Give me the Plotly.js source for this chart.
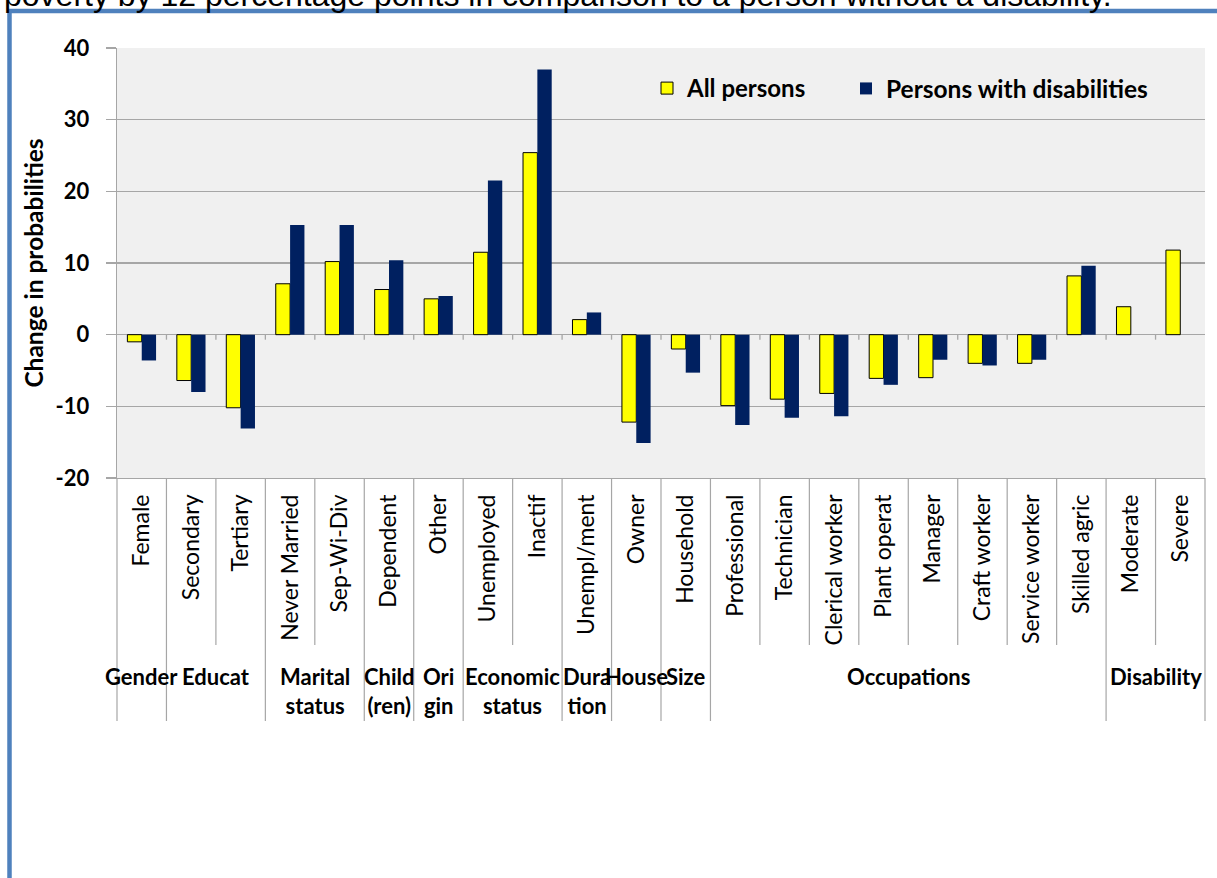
<!DOCTYPE html>
<html>
<head>
<meta charset="utf-8">
<script src="https://cdn.plot.ly/plotly-3.0.1.min.js"></script>
<style>
  html, body { margin: 0; padding: 0; background: #ffffff; }
  #chart { width: 1217px; height: 878px; }
</style>
</head>
<body>
<div id="chart"></div>
<script>
// ---- data ----
var categories = ["Female", "Secondary", "Tertiary", "Never Married", "Sep-Wi-Div", "Dependent",
  "Other", "Unemployed", "Inactif", "Unempl/ment", "Owner", "Household", "Professional",
  "Technician", "Clerical worker", "Plant operat", "Manager", "Craft worker", "Service worker",
  "Skilled agric", "Moderate", "Severe"];
var allPersons = [-1.0, -6.4, -10.2, 7.1, 10.2, 6.3, 5.0, 11.5, 25.4, 2.1, -12.2, -2.0, -9.9,
  -9.0, -8.2, -6.1, -6.0, -4.0, -4.0, 8.2, 3.9, 11.8];
var personsWithDisabilities = [-3.6, -8.0, -13.1, 15.3, 15.3, 10.4, 5.4, 21.5, 37.0, 3.1, -15.1,
  -5.3, -12.6, -11.6, -11.4, -7.0, -3.5, -4.3, -3.5, 9.6, null, null];
var groupLabels = ["Gender", "Educat", "Marital<br>status", "Child<br>(ren)", "Ori<br>gin",
  "Economic<br>status", "Dura<br>tion", "House", "Size", "Occupations", "Disability"];
var groupSizes = [1, 2, 2, 1, 1, 2, 1, 1, 1, 8, 2];
var seriesNames = ["All persons", "Persons with disabilities"];
var yTickValues = [-20, -10, 0, 10, 20, 30, 40];
var topText = "poverty by 12 percentage points in comparison to a person without a disability.";

// ---- style ----
var FONT = "Lato, 'Open Sans', sans-serif";
var GRID = "#a6a6a6";
var W = 1217, H = 878;
var M = {l: 117, r: 12, t: 48, b: 400};
var plotW = W - M.l - M.r, plotH = H - M.t - M.b;
function py(pix) { return (H - M.b - pix) / plotH; }   // page pixel row -> paper y
function px(pix) { return (pix - M.l) / plotW; }        // page pixel col -> paper x

var n = categories.length;

var traces = [
  {
    type: "bar", name: seriesNames[0], x: categories, y: allPersons,
    marker: {color: "#ffff00", line: {color: "#000000", width: 1}},
    legend: "legend",
    hoverinfo: "x+y"
  },
  {
    type: "bar", name: seriesNames[1], x: categories, y: personsWithDisabilities,
    marker: {color: "#002060", line: {color: "#002060", width: 0}},
    legend: "legend2",
    hoverinfo: "x+y"
  }
];

var shapes = [];
var annotations = [];

// small tick marks on the zero line at category boundaries
for (var k = 1; k < n; k++) {
  shapes.push({type: "line", xref: "x", yref: "y", x0: k - 0.5, x1: k - 0.5, y0: 0, y1: -0.7,
    line: {color: GRID, width: 1.3}});
}

// dividers under the plot: inner category dividers and group dividers
var groupBounds = {};
var acc = 0;
groupBounds[0] = true;
for (var g = 0; g < groupSizes.length; g++) {
  var start = acc;
  acc += groupSizes[g];
  groupBounds[acc] = true;
  annotations.push({
    xref: "paper", yref: "paper", x: (start + groupSizes[g] / 2) / n, y: py(661),
    xanchor: "center", yanchor: "top", showarrow: false, text: groupLabels[g],
    font: {family: FONT, size: 22, color: "#000000", weight: "bold"}
  });
}
for (var b = 0; b <= n; b++) {
  var yEnd = groupBounds[b] ? py(721) : py(645);
  shapes.push({type: "line", xref: "paper", yref: "paper", x0: b / n, x1: b / n, y0: 0, y1: yEnd,
    line: {color: GRID, width: 1.2}});
}

// top frame border (blue) of the surrounding document box
shapes.push({type: "rect", xref: "paper", yref: "paper",
  x0: px(9.5), x1: px(1240), y0: py(11), y1: py(900),
  line: {color: "#4f81bd", width: 4.5}, fillcolor: "rgba(0,0,0,0)", layer: "above"});

// cut-off sentence from the surrounding text
annotations.push({
  xref: "paper", yref: "paper", x: px(2), y: py(-5), xanchor: "left", yanchor: "middle",
  showarrow: false, text: topText,
  font: {family: "'Liberation Sans', Arial, sans-serif", size: 32, color: "#000000"}
});

var legendFont = {family: FONT, size: 24, color: "#000000", weight: "bold"};

var layout = {
  width: W, height: H,
  margin: M,
  paper_bgcolor: "#ffffff",
  plot_bgcolor: "#f0f0f0",
  barmode: "group",
  bargap: 0.42,
  bargroupgap: 0,
  showlegend: true,
  legend: {
    orientation: "h", x: px(647), y: py(66), xanchor: "left", yanchor: "top",
    bgcolor: "rgba(0,0,0,0)", font: legendFont
  },
  legend2: {
    orientation: "h", x: px(846), y: py(66), xanchor: "left", yanchor: "top",
    bgcolor: "rgba(0,0,0,0)", font: {family: FONT, size: 24.5, color: "#000000", weight: "bold"}
  },
  xaxis: {
    type: "category",
    categoryorder: "array", categoryarray: categories,
    range: [-0.5, n - 0.5],
    tickangle: -90,
    ticks: "",
    showgrid: false,
    zeroline: false,
    showline: true, linecolor: GRID, linewidth: 1.3,
    ticklabelstandoff: 6,
    tickfont: {family: FONT, size: 23, color: "#000000"},
    fixedrange: true
  },
  yaxis: {
    range: [-20, 40],
    tickvals: yTickValues,
    ticktext: yTickValues.map(String),
    ticks: "outside", ticklen: 10, tickcolor: GRID, tickwidth: 1.3,
    showline: true, linecolor: GRID, linewidth: 1.3,
    showgrid: true, gridcolor: GRID, gridwidth: 1.3,
    zeroline: true, zerolinecolor: GRID, zerolinewidth: 1.3,
    ticklabelstandoff: 12,
    tickfont: {family: FONT, size: 22, color: "#000000", weight: "bold"},
    title: {text: "Change in probabilities", standoff: 5,
      font: {family: FONT, size: 24.5, color: "#000000", weight: "bold"}},
    fixedrange: true
  },
  shapes: shapes,
  annotations: annotations
};

Plotly.newPlot("chart", traces, layout, {displayModeBar: false, staticPlot: true});
</script>
</body>
</html>
